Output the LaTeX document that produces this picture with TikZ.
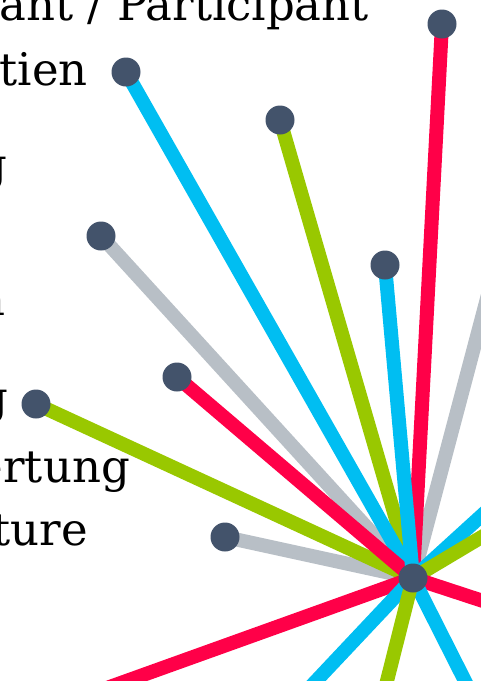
\documentclass[tikz,border=0pt]{standalone}
\usepackage{fontspec}
\setmainfont{DejaVu Serif}
\pgfdeclarelayer{bg}
\pgfsetlayers{bg,main}
\definecolor{redc}{HTML}{FF0048}
\definecolor{bluec}{HTML}{00BEF2}
\definecolor{greenc}{HTML}{99C800}
\definecolor{grayc}{HTML}{B8BFC6}
\definecolor{dotc}{HTML}{43536B}
\tikzset{
  dot/.style={circle, fill=dotc, minimum size=29pt, inner sep=0pt},
  spoke/.style={line width=14pt},
  lbl/.style={font=\fontsize{45}{52}\selectfont, inner sep=0pt, anchor=base east, text=black}
}
\begin{document}
\begin{tikzpicture}[x=1pt,y=-1pt]
\useasboundingbox (0,0) rectangle (480,681);
\clip (0,0) rectangle (480,681);
% labels
\node[lbl] (t1) at (369,20) {ant / Participant};
\node[lbl] (t2) at (88,85) {tien};
\node[lbl] (t3) at (8,180) {g};
\node[lbl] (t4) at (6,315) {n};
\node[lbl] (t5) at (9,413) {g};
\node[lbl] (t6) at (130,482) {ertung};
\node[lbl] (t7) at (88,545) {ture};
% hub and dots
\node[dot] (c) at (413,578) {};
\node[dot] (d1) at (442,24) {};
\node[dot] (d2) at (126,72) {};
\node[dot] (d3) at (280,120) {};
\node[dot] (d4) at (101,236) {};
\node[dot] (d5) at (385,265) {};
\node[dot] (d6) at (177,377) {};
\node[dot] (d7) at (36,404) {};
\node[dot] (d8) at (225,537) {};
% free ends outside the picture
\coordinate (o1) at (539,102);
\coordinate (o2) at (547,456);
\coordinate (o3) at (547,498);
\coordinate (o4) at (547,622);
\coordinate (o5) at (517,784);
\coordinate (o6) at (361,784);
\coordinate (o7) at (219,784);
\coordinate (o8) at (40,712);
\begin{pgfonlayer}{bg}
\draw[spoke, grayc] (c.center) -- (d4.center);
\draw[spoke, grayc] (c.center) -- (d8.center);
\draw[spoke, grayc] (c.center) -- (o1);
\draw[spoke, greenc] (c.center) -- (d7.center);
\draw[spoke, greenc] (c.center) -- (d3.center);
\draw[spoke, bluec] (c.center) -- (d2.center);
\draw[spoke, redc] (c.center) -- (d6.center);
\draw[spoke, redc] (c.center) -- (d1.center);
\draw[spoke, bluec] (c.center) -- (d5.center);
\draw[spoke, bluec] (c.center) -- (o2);
\draw[spoke, greenc] (c.center) -- (o3);
\draw[spoke, redc] (c.center) -- (o4);
\draw[spoke, redc] (c.center) -- (o8);
\draw[spoke, bluec] (c.center) -- (o7);
\draw[spoke, bluec] (c.center) -- (o5);
\draw[spoke, greenc] (c.center) -- (o6);
\end{pgfonlayer}
\end{tikzpicture}
\end{document}
